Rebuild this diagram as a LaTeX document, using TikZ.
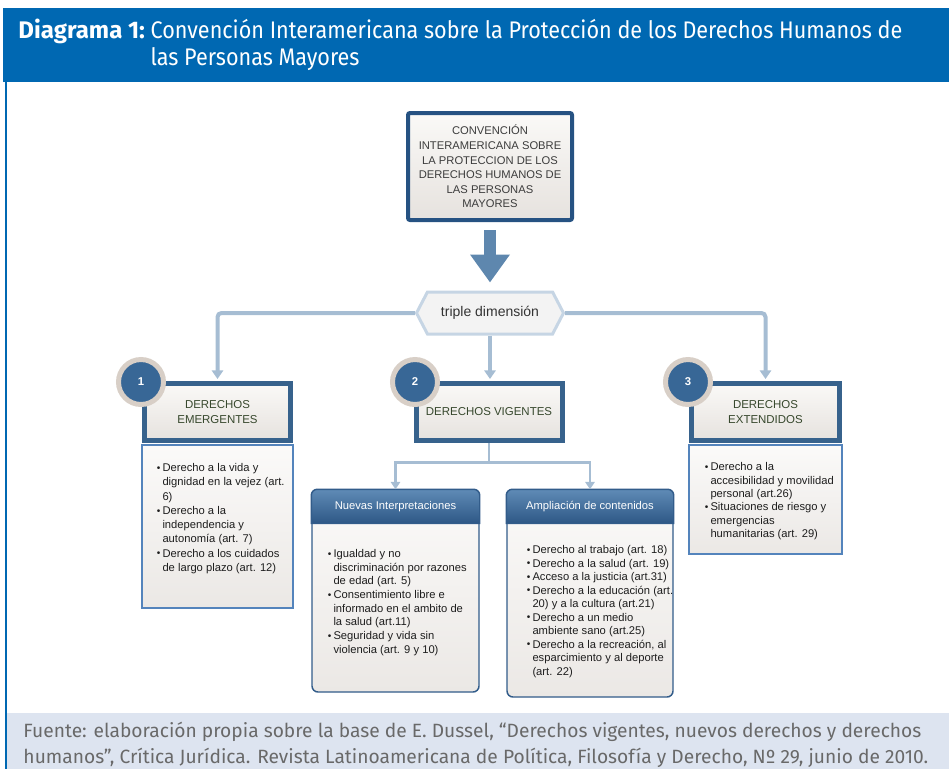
\documentclass[tikz,border=0pt]{standalone}
\usepackage{fontspec}
\setmainfont{Liberation Sans}
\newfontfamily\hdfont[FakeStretch=0.9]{Fira Sans}
\newfontfamily\hdbold{Fira Sans}
\newfontfamily\srcfont{Fira Sans}
\usetikzlibrary{arrows.meta,shapes.symbols}

\definecolor{hdblue}{RGB}{0,104,178}
\definecolor{srcbg}{RGB}{221,228,240}
\definecolor{srctxt}{RGB}{105,105,105}
\definecolor{mainbd}{RGB}{38,82,130}
\definecolor{bd}{RGB}{55,98,140}
\definecolor{boxtop}{RGB}{250,249,247}
\definecolor{boxbot}{RGB}{230,226,222}
\definecolor{maintxt}{RGB}{60,60,60}
\definecolor{ttlc}{RGB}{55,72,45}
\definecolor{hexbd}{RGB}{198,213,228}
\definecolor{hexfill}{RGB}{243,243,243}
\definecolor{ringc}{RGB}{216,207,199}
\definecolor{numc}{RGB}{56,103,150}
\definecolor{listbd}{RGB}{84,132,188}
\definecolor{listtop}{RGB}{251,250,249}
\definecolor{listbot}{RGB}{235,232,229}
\definecolor{grpbd}{RGB}{50,92,138}
\definecolor{grptop}{RGB}{95,139,182}
\definecolor{grpbot}{RGB}{46,88,134}
\definecolor{txtc}{RGB}{30,30,30}
\definecolor{connc}{RGB}{166,189,211}
\definecolor{arrc}{RGB}{94,135,174}

\newcommand{\bul}{\makebox[0pt][r]{\raisebox{0.3pt}{\scalebox{0.9}{\textbullet}}\hspace{1.5pt}}}

\tikzset{every picture/.style={line width=0.75pt},
  hdtxt/.style={text=white, inner sep=0pt, font=\hdfont\fontsize{18}{22}\selectfont},
  srcline/.style={text=srctxt, inner sep=0pt, anchor=base west, font=\srcfont\fontsize{14.4}{17}\selectfont},
  mainbox/.style={draw=mainbd, line width=3pt, rounded corners=1.5pt, top color=boxtop, bottom color=boxbot,
    minimum width=123pt, minimum height=80.25pt, align=center, text=maintxt, inner sep=0pt,
    font=\fontsize{8.4}{10.9}\selectfont},
  dimbox/.style={signal, signal to=west and east, signal pointer angle=125, draw=hexbd, line width=2.25pt,
    fill=hexfill, minimum width=110.25pt, minimum height=31.5pt, inner sep=0pt, text=black!80,
    font=\fontsize{10.5}{12}\selectfont},
  rightbox/.style={draw=bd, line width=3.75pt, top color=boxtop, bottom color=boxbot, minimum height=42.75pt,
    align=center, text=ttlc, inner sep=0pt, font=\fontsize{8.6}{10.9}\selectfont},
  numcirc/.style={circle, draw=ringc, line width=3.75pt, fill=numc, minimum size=33.75pt, inner sep=0pt,
    text=white, font=\bfseries\fontsize{8.5}{10}\selectfont},
  listbox/.style={draw=listbd, line width=0.9pt, top color=listtop, bottom color=listbot, inner sep=0pt},
  grpbox/.style={draw=grpbd, line width=1.1pt, rounded corners=4.5pt, top color=listtop, bottom color=listbot, inner sep=0pt},
  grphead/.style={draw=grpbd, line width=1.1pt, top color=grptop, bottom color=grpbot},
  grptxt/.style={text=white, inner sep=0pt, font=\fontsize{8.4}{10}\selectfont},
  itemtxt/.style={anchor=north west, inner sep=0pt, align=left, text=txtc},
  conn/.style={draw=connc, line width=3pt, rounded corners=3pt, -{Triangle[width=8.5pt,length=6.5pt]}, shorten >=1.5pt},
  conn2/.style={draw=connc, line width=2pt, -{Triangle[width=7pt,length=5.5pt]}},
  bigarrow/.style={draw=arrc, line width=9pt, -{Triangle[width=28.5pt,length=21pt]}, shorten <=6pt, shorten >=6pt}
}

\begin{document}
\begin{tikzpicture}[x=0.75pt,y=0.75pt,yscale=-1,xscale=1]
\useasboundingbox (0,0) rectangle (949,769);

%Shape: Rectangle (title band)
\fill [hdblue] (3,8) rectangle (949,82);
%Shape: Rectangle (source band)
\fill [srcbg] (7,713) rectangle (949,769);
%Straight Lines
\draw [hdblue, line width=1.5pt] (6,82) -- (6,769);

% Text Node
\node [hdtxt, anchor=base west, font=\hdbold\bfseries\fontsize{18}{22}\selectfont] (hd-lbl) at (18,38) {Diagrama 1:};
\node [hdtxt, anchor=base west] (hd-l1) at ([xshift=3.5pt]hd-lbl.base east) {Convención Interamericana sobre la Protección de los Derechos Humanos de};
\node [hdtxt, anchor=base west] (hd-l2) at ([yshift=20.25pt]hd-l1.base west) {las Personas Mayores};

% Text Node
\node [mainbox] (conv) at (490,166.5) {CONVENCIÓN\\INTERAMERICANA SOBRE\\LA PROTECCION DE LOS\\DERECHOS HUMANOS DE\\LAS PERSONAS\\MAYORES};
\node [dimbox] (tri) at (490,313) {triple dimensión};

%Shape: Rectangle (three kinds of rights)
\node [rightbox, minimum width=109.5pt] (emer) at (217.5,412) {DERECHOS\\EMERGENTES};
\node [rightbox, minimum width=109.5pt] (vig) at (489,412) {DERECHOS VIGENTES};
\node [rightbox, minimum width=111pt] (ext) at (765.5,412) {DERECHOS\\EXTENDIDOS};

%Shape: Rectangle (lists)
\node [listbox, minimum width=113.25pt, minimum height=122.25pt] (emer-l) at (217.5,526.5) {};
\node [listbox, minimum width=114.75pt, minimum height=81.75pt] (ext-l) at (765.5,499.5) {};
\node [grpbox, minimum width=125.25pt, minimum height=151.5pt] (nue) at (395.5,591) {};
\node [grpbox, minimum width=124.5pt, minimum height=155.25pt] (amp) at (590,593.5) {};

%Shape: header of the two groups
\path [grphead] ([yshift=25.5pt]nue.north west) [rounded corners=4.5pt]-- (nue.north west) -- (nue.north east) [sharp corners]-- ([yshift=25.5pt]nue.north east) -- cycle;
\path [grphead] ([yshift=25.5pt]amp.north west) [rounded corners=4.5pt]-- (amp.north west) -- (amp.north east) [sharp corners]-- ([yshift=25.5pt]amp.north east) -- cycle;
\node [grptxt] (nue-h) at ([yshift=12.75pt]nue.north) {Nuevas Interpretaciones};
\node [grptxt] (amp-h) at ([yshift=12.75pt]amp.north) {Ampliación de contenidos};

% Text Node
\node [itemtxt, font=\fontsize{8.4}{10.7}\selectfont] (emer-t) at (162,463) {\bul Derecho a la vida y\\dignidad en la vejez (art.\\6)\\\bul Derecho a la\\independencia y\\autonomía (art. 7)\\\bul Derecho a los cuidados\\de largo plazo (art. 12)};
\node [itemtxt, font=\fontsize{8.4}{10.25}\selectfont] (nue-t) at (333,549) {\bul Igualdad y no\\discriminación por razones\\de edad (art. 5)\\\bul Consentimiento libre e\\informado en el ambito de\\la salud (art.11)\\\bul Seguridad y vida sin\\violencia (art. 9 y 10)};
\node [itemtxt, font=\fontsize{8.4}{10.15}\selectfont] (amp-t) at (532,545) {\bul Derecho al trabajo (art. 18)\\\bul Derecho a la salud (art. 19)\\\bul Acceso a la justicia (art.31)\\\bul Derecho a la educación (art.\\20) y a la cultura (art.21)\\\bul Derecho a un medio\\ambiente sano (art.25)\\\bul Derecho a la recreación, al\\esparcimiento y al deporte\\(art. 22)};
\node [itemtxt, font=\fontsize{8.4}{10.05}\selectfont] (ext-t) at (710,462) {\bul Derecho a la\\accesibilidad y movilidad\\personal (art.26)\\\bul Situaciones de riesgo y\\emergencias\\humanitarias (art. 29)};

%Shape: Circle (numbers)
\node [numcirc] (n1) at (141,382) {1};
\node [numcirc] (n2) at (415,382) {2};
\node [numcirc] (n3) at (688,382) {3};

%Straight Lines
\draw [bigarrow] (conv.south) -- (tri.north);
\draw [conn] (tri.west) -| (emer.north);
\draw [conn] (tri.south) -- (tri.south |- vig.north);
\draw [conn] (tri.east) -| (ext.north);
\draw [conn2] (vig.south) -- ++(0,19.5) -| (nue.north);
\draw [conn2] (vig.south) -- ++(0,19.5) -| (amp.north);

% Text Node
\node [srcline] (src1) at (23,737) {Fuente: elaboración propia sobre la base de E. Dussel, “Derechos vigentes, nuevos derechos y derechos};
\node [srcline] (src2) at ([yshift=19.5pt]src1.base west) {humanos”, Crítica Jurídica. Revista Latinoamericana de Política, Filosofía y Derecho, Nº 29, junio de 2010.};

\end{tikzpicture}
\end{document}
